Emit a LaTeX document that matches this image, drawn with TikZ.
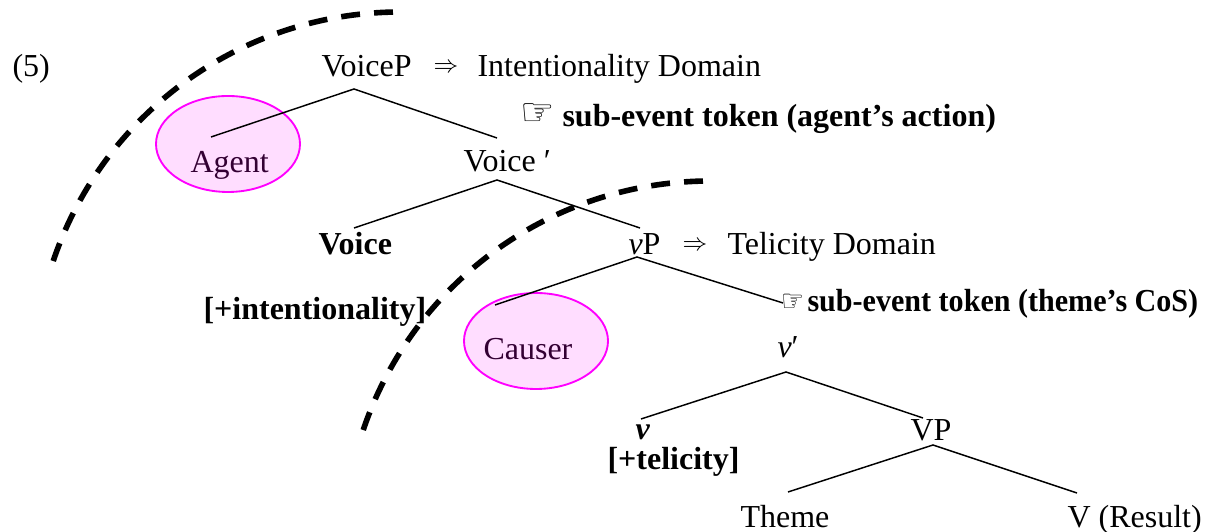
\documentclass[tikz,border=0pt]{standalone}
\usepackage{fontspec}
\setmainfont{Liberation Serif}
\newfontfamily\symfont{DejaVu Sans}
\usetikzlibrary{shapes.geometric}
\definecolor{rolepink}{RGB}{255,221,255}
\definecolor{roleedge}{RGB}{255,0,255}
\definecolor{roletext}{RGB}{51,0,51}
\newcommand{\dimpl}{\raisebox{1.5pt}{\fontsize{9}{9}\selectfont$\Rightarrow$}}
\begin{document}
\begin{tikzpicture}[x=0.375pt,y=-0.375pt,
  every node/.style={font=\fontsize{12}{14}\selectfont, inner sep=0pt, anchor=base west},
  branch/.style={line width=0.55pt},
  domainline/.style={line width=2.1pt, dash pattern=on 7.1pt off 5.3pt},
  role/.style={ellipse, draw=roleedge, fill=rolepink, line width=0.7pt,
    minimum width=54pt, minimum height=36pt, anchor=center},
  roletxt/.style={text=roletext}]
\useasboundingbox (0,0) rectangle (1206,532);

% domain arcs
\draw[domainline] plot[domain=268.9:198.6, samples=80] ({400+366*cos(\x)},{378+366*sin(\x)});
\draw[domainline] plot[domain=268.9:198.6, samples=80] ({710+366*cos(\x)},{547+366*sin(\x)});

% role ellipses
\node[role] (agentE) at (228,144) {};
\node[role] (causerE) at (536,341) {};

% labels
\node (num) at (12,77) {(5)};
\node (voiceP) at (321,77) {VoiceP};
\node (arr1) at (433,77) {\dimpl};
\node (dom1) at (477,77) {Intentionality Domain};
\node (hand1) at (520,126) {\scalebox{1.2}{\symfont ☞}};
\node (sub1) at (562,127) {\textbf{sub-event token (agent’s action)}};
\node[roletxt] (agent) at (190,173) {Agent};
\node (voiceBar) at (463,172) {Voice ′};
\node (voice) at (318,255) {\textbf{Voice}};
\node (vP) at (628,255) {\textit{v}P};
\node (arr2) at (682,255) {\dimpl};
\node (dom2) at (727,255) {Telicity Domain};
\node (intent) at (203,320) {\textbf{[+intentionality]}};
\node (hand2) at (781,312) {\scalebox{0.8}[0.95]{\symfont ☞}};
\node (sub2) at (807,312) {\scalebox{0.94}[1]{\textbf{sub-event token (theme’s CoS)}}};
\node[roletxt] (causer) at (483,360) {Causer};
\node (vBar) at (777,358) {\textit{v}′};
\node (v) at (635,440) {\textbf{\textit{v}}};
\node (telic) at (607,470) {\textbf{[+telicity]}};
\node (VP) at (910,441) {VP};
\node (theme) at (740,528) {Theme};
\node (result) at (1067,528) {V (Result)};

% branch points
\coordinate (voiceP-b) at (354,89);
\coordinate (agent-t) at (211,137);
\coordinate (voiceBar-t) at (497,138);
\coordinate (voiceBar-b) at (497,180);
\coordinate (voice-t) at (354,228);
\coordinate (vP-t) at (640,228);
\coordinate (vP-b) at (637,257);
\coordinate (causer-t) at (495,305);
\coordinate (vBar-t) at (783,303);
\coordinate (vBar-b) at (786,372);
\coordinate (v-t) at (641,419);
\coordinate (VP-t) at (923,418);
\coordinate (VP-b) at (933,445);
\coordinate (theme-t) at (788,492);
\coordinate (result-t) at (1077,493);

\draw[branch] (agent-t) -- (voiceP-b) -- (voiceBar-t);
\draw[branch] (voice-t) -- (voiceBar-b) -- (vP-t);
\draw[branch] (causer-t) -- (vP-b) -- (vBar-t);
\draw[branch] (v-t) -- (vBar-b) -- (VP-t);
\draw[branch] (theme-t) -- (VP-b) -- (result-t);
\end{tikzpicture}
\end{document}
